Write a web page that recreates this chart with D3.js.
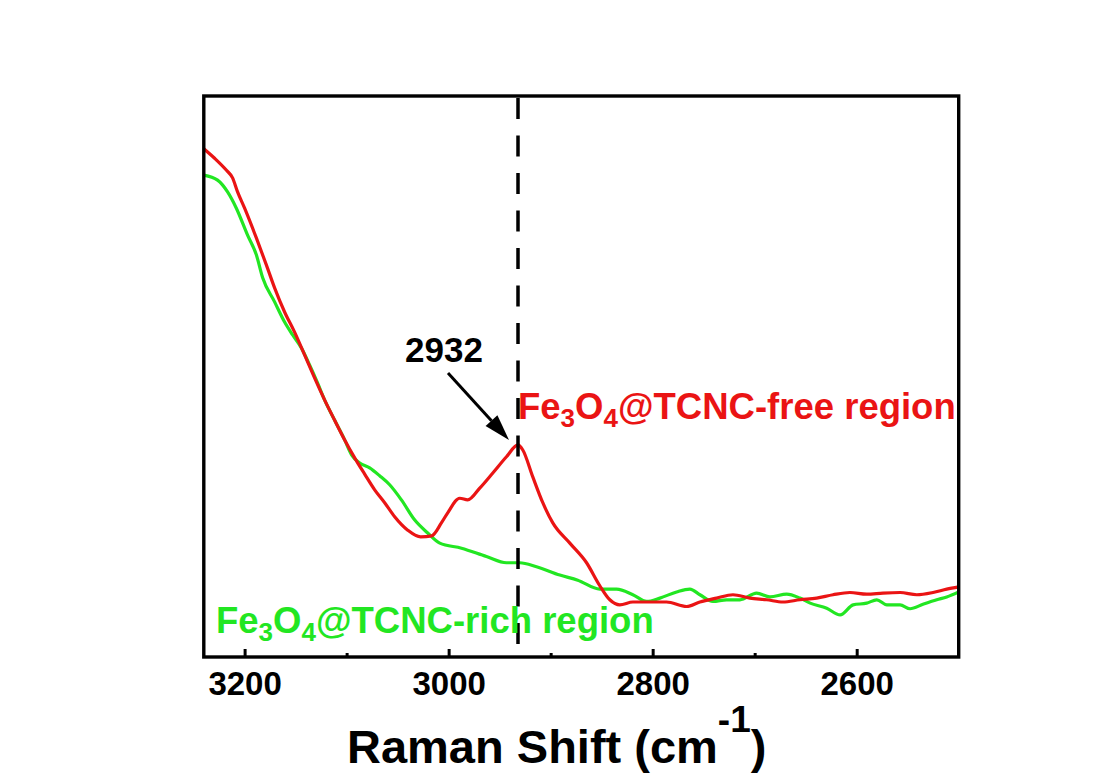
<!DOCTYPE html>
<html>
<head>
<meta charset="utf-8">
<script src="https://cdn.jsdelivr.net/npm/d3@7"></script>
<style>
  html, body { margin: 0; padding: 0; background: #ffffff; }
  svg { display: block; }
  text { font-family: Arial, "Liberation Sans", sans-serif; font-weight: bold; }
</style>
</head>
<body>
<svg id="chart" width="1100" height="780"></svg>
<script>
// ---- Data (Raman shift in cm^-1, intensity in arbitrary units 0-100) ----
const redShift = [3240,3229.4,3218,3211.8,3206.9,3200,3188.5,3178.7,3170.6,3160.8,3151,3141.1,3131.3,3121.5,3111.7,3101.9,3092.1,3082.3,3072.5,3062.7,3052.9,3040.1,3027.4,3016.6,3007.1,3000.9,2989.1,2981.3,2969.5,2956.7,2943.3,2932,2927.3,2917.5,2907.7,2897.9,2881.2,2864.8,2851.8,2842,2832.2,2819.4,2802.7,2786.4,2766.7,2753.7,2737.3,2721.3,2704.7,2688.3,2672.3,2655.6,2639.2,2623.2,2606.6,2590.2,2574.2,2557.5,2541.1,2525.1,2511.7,2500];
const redIntensity = [90.6,88.9,86.8,85.4,82.9,80.0,74.7,69.9,65.8,61.5,57.9,53.8,49.7,45.8,42.2,38.7,35.5,32.6,29.8,27.5,25.0,22.6,21.4,21.6,23.9,25.7,28.3,28.0,30.1,32.8,35.7,37.8,36.9,32.1,27.5,23.9,20.3,16.8,12.7,10.2,9.3,9.8,9.8,9.8,9.0,9.8,10.5,11.1,10.5,10.2,9.8,10.2,10.5,11.1,11.5,11.2,11.4,11.5,11.1,11.5,12.1,12.5];

const greenShift = [3240,3226.5,3216.7,3208.1,3197.1,3188.5,3182.3,3170.6,3160.8,3152.9,3144.4,3136.2,3128.4,3121.5,3111.7,3101.9,3095,3087.2,3077.4,3067.6,3057.8,3046.3,3033.2,3020.5,3008.7,2987.4,2962.9,2943.3,2930.3,2913.9,2891,2873.4,2851.8,2835.4,2819.4,2805.9,2792.9,2776.5,2763.5,2753.7,2740.9,2727.5,2714.4,2698.1,2685,2668.6,2655.6,2645.6,2629.4,2616.2,2603.5,2590.2,2580.3,2570.5,2557.5,2547.7,2535,2521.5,2511.7,2500];
const greenIntensity = [85.9,85.0,82.9,80.0,75.2,71.7,67.6,63.3,59.7,57.4,55.1,52.0,48.8,45.8,42.2,38.7,36.0,34.6,33.7,32.3,30.7,28.0,24.4,22.1,20.3,19.4,17.9,16.8,16.8,16.1,14.6,13.7,12.1,12.1,11.1,9.9,10.5,11.6,12.1,11.1,9.9,10.2,10.2,11.4,10.7,11.2,10.5,9.6,8.7,7.5,9.3,9.6,10.2,9.3,9.3,8.6,9.4,10.2,10.7,11.6];

const xTickValues = [3200, 3000, 2800, 2600];
const xMinorTicks = [3100, 2900, 2700];
const xDomain = [3240, 2500];
const yDomain = [0, 100];
const peakShift = 2932;
const peakLabel = "2932";
const seriesColors = ["#ea1414", "#22e622"];

// ---- Layout ----
const svg = d3.select("#chart");
const mLeft = 203.8, mRight = 958.7, mTop = 96, mBottom = 657;

const x = d3.scaleLinear().domain(xDomain).range([mLeft, mRight]);
const y = d3.scaleLinear().domain(yDomain).range([mBottom, mTop]);

const redData = redShift.map((s, i) => ({s, v: redIntensity[i]}));
const greenData = greenShift.map((s, i) => ({s, v: greenIntensity[i]}));

const line = d3.line().x(d => x(d.s)).y(d => y(d.v)).curve(d3.curveMonotoneX);

svg.append("rect").attr("width", 1100).attr("height", 780).attr("fill", "#ffffff");

svg.append("clipPath").attr("id", "clip")
  .append("rect").attr("x", mLeft).attr("y", mTop).attr("width", mRight - mLeft).attr("height", mBottom - mTop);

const plot = svg.append("g").attr("clip-path", "url(#clip)");

// dashed reference line
svg.append("line")
  .attr("x1", x(peakShift)).attr("x2", x(peakShift))
  .attr("y1", mTop + 2).attr("y2", mBottom)
  .attr("stroke", "#000").attr("stroke-width", 3.5)
  .attr("stroke-dasharray", "21,16.5");

plot.append("path").datum(greenData)
  .attr("d", line).attr("fill", "none")
  .attr("stroke", seriesColors[1]).attr("stroke-width", 3.2).attr("stroke-linejoin", "round");

plot.append("path").datum(redData)
  .attr("d", line).attr("fill", "none")
  .attr("stroke", seriesColors[0]).attr("stroke-width", 3.2).attr("stroke-linejoin", "round");

// ---- Axes ----
const xAxis = d3.axisBottom(x).tickValues(xTickValues).tickSize(-8).tickPadding(0).tickFormat(d3.format("d"));
const gx = svg.append("g").attr("transform", `translate(0,${mBottom})`).call(xAxis);
gx.select(".domain").remove();
gx.selectAll(".tick line").attr("stroke", "#000").attr("stroke-width", 3);
gx.selectAll(".tick text").attr("fill", "#000").attr("font-size", 33)
  .attr("y", 38).attr("dy", 0);

const gxm = svg.append("g").attr("transform", `translate(0,${mBottom})`)
  .call(d3.axisBottom(x).tickValues(xMinorTicks).tickSize(-4).tickFormat(""));
gxm.select(".domain").remove();
gxm.selectAll(".tick line").attr("stroke", "#000").attr("stroke-width", 3);

// frame
svg.append("rect")
  .attr("x", mLeft).attr("y", mTop).attr("width", mRight - mLeft).attr("height", mBottom - mTop)
  .attr("fill", "none").attr("stroke", "#000").attr("stroke-width", 3.4);

// axis title
const title = svg.append("text").attr("x", 347).attr("y", 763)
  .attr("font-size", 47).attr("fill", "#000");
title.append("tspan").text("Raman Shift (cm");
title.append("tspan").attr("font-size", 37).attr("dy", -31).text("-1");
title.append("tspan").attr("dy", 31).text(")");

// series labels
function subLabel(xp, yp, color, parts) {
  const t = svg.append("text").attr("x", xp).attr("y", yp).attr("font-size", 36.5).attr("fill", color);
  parts.forEach(p => {
    if (p.sub) t.append("tspan").attr("font-size", 26).attr("dy", 8).text(p.t);
    else t.append("tspan").attr("dy", p.back ? -8 : 0).text(p.t);
  });
}
subLabel(518, 419, seriesColors[0], [{t:"Fe"},{t:"3",sub:true},{t:"O",back:true},{t:"4",sub:true},{t:"@TCNC-free region",back:true}]);
subLabel(216, 633, seriesColors[1], [{t:"Fe"},{t:"3",sub:true},{t:"O",back:true},{t:"4",sub:true},{t:"@TCNC-rich region",back:true}]);

// peak annotation
const peakVal = redData.find(d => d.s === peakShift).v;
const tipX = x(peakShift) - 9, tipY = y(peakVal) - 5;
const startX = tipX - 61, startY = tipY - 67;
const ang = Math.atan2(tipY - startY, tipX - startX);
const headLen = 26, headW = 8;
const bx = tipX - headLen * Math.cos(ang), by = tipY - headLen * Math.sin(ang);
svg.append("line").attr("x1", startX).attr("y1", startY).attr("x2", bx).attr("y2", by)
  .attr("stroke", "#000").attr("stroke-width", 3);
svg.append("path")
  .attr("d", `M${tipX},${tipY} L${bx + headW * Math.sin(ang)},${by - headW * Math.cos(ang)} L${bx - headW * Math.sin(ang)},${by + headW * Math.cos(ang)} Z`)
  .attr("fill", "#000");
svg.append("text").attr("x", 444).attr("y", 362).attr("text-anchor", "middle")
  .attr("font-size", 35).attr("fill", "#000").text(peakLabel);
</script>
</body>
</html>
